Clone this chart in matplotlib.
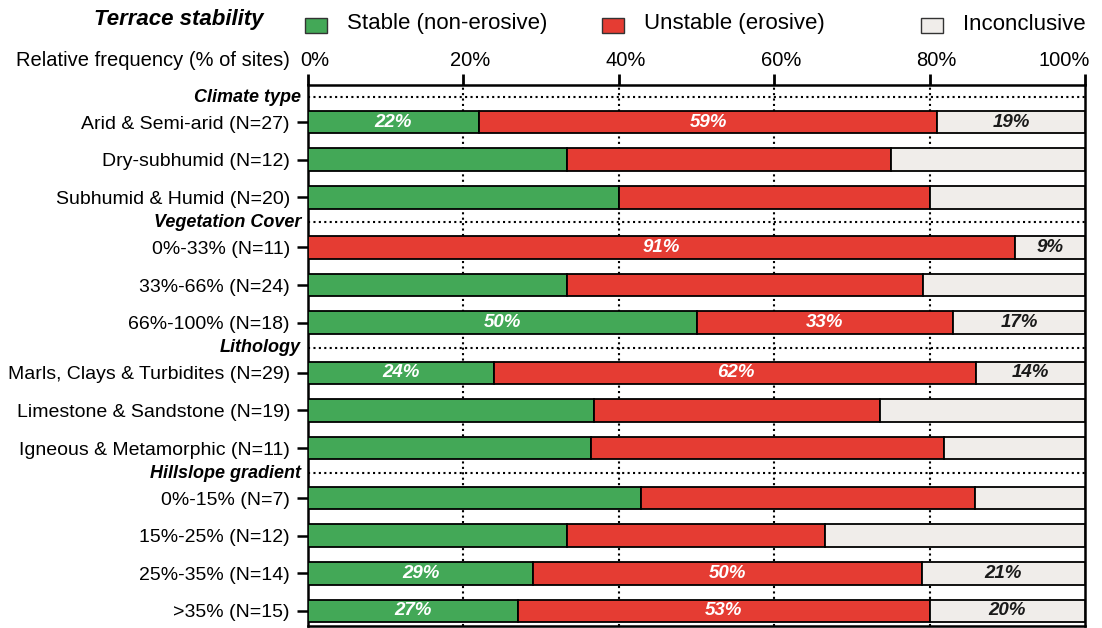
import matplotlib
matplotlib.use("Agg")
import matplotlib.pyplot as plt
from matplotlib.patches import Rectangle
from matplotlib.transforms import blended_transform_factory, ScaledTranslation

plt.rcParams['font.family'] = ['Liberation Sans', 'DejaVu Sans']

# ---- data -------------------------------------------------------------
groups = ["Climate type", "Vegetation Cover", "Lithology", "Hillslope gradient"]
categories = [
    ["Arid & Semi-arid (N=27)", "Dry-subhumid (N=12)", "Subhumid & Humid (N=20)"],
    ["0%-33% (N=11)", "33%-66% (N=24)", "66%-100% (N=18)"],
    ["Marls, Clays & Turbidites (N=29)", "Limestone & Sandstone (N=19)",
     "Igneous & Metamorphic (N=11)"],
    ["0%-15% (N=7)", "15%-25% (N=12)", "25%-35% (N=14)", ">35% (N=15)"],
]
stable = [22, 33.3, 40, 0, 33.3, 50, 24, 36.8, 36.4, 42.9, 33.3, 29, 27]
unstable = [59, 41.7, 40, 91, 45.8, 33, 62, 36.8, 45.5, 42.9, 33.3, 50, 53]
inconclusive = [19, 25, 20, 9, 20.9, 17, 14, 26.4, 18.1, 14.2, 33.4, 21, 20]
annotated = [True, False, False, True, False, True, True, False, False,
             False, False, True, True]
xticks = [0, 20, 40, 60, 80, 100]
series_names = ["Stable (non-erosive)", "Unstable (erosive)", "Inconclusive"]
colors = ["#43A857", "#E53C33", "#F0EDEA"]

# ---- row layout: group header rows are narrower than bar rows ---------
header_y, bar_y, bar_labels = [], [], []
cur = 0.0
for g, cats in zip(groups, categories):
    header_y.append(cur)
    cur += 2 / 3
    for c in cats:
        bar_y.append(cur)
        bar_labels.append(c)
        cur += 1
    cur -= 1 / 3

fig = plt.figure(figsize=(11.02, 6.28), dpi=100)
ax = fig.add_axes([308 / 1102, 2 / 628, (1085 - 308) / 1102, (626 - 85) / 628])

h = 0.6
lefts = [0] * len(stable)
segments = []
for vals, col in zip([stable, unstable, inconclusive], colors):
    bars = ax.barh(bar_y, vals, left=lefts, height=h, color=col,
                   edgecolor="black", linewidth=1.3, zorder=3)
    segments.append((bars, vals, list(lefts)))
    lefts = [l + v for l, v in zip(lefts, vals)]

# value labels on selected rows
for k, (bars, vals, lft) in enumerate(segments):
    txtcol = "#1a1a1a" if k == 2 else "white"
    for i, (y, v, l) in enumerate(zip(bar_y, vals, lft)):
        if annotated[i] and v > 0:
            ax.text(l + v / 2, y, f"{v:.0f}%", ha="center", va="center",
                    color=txtcol, fontsize=13.5, fontweight="bold",
                    fontstyle="italic", zorder=5)

# dotted guides
for x in xticks[1:-1]:
    ax.axvline(x, color="black", linestyle=(0, (1, 1.6)), linewidth=1.5, zorder=1)
for y in header_y:
    ax.axhline(y, color="black", linestyle=(0, (1, 1.6)), linewidth=1.5, zorder=1)

# group header labels
trans = blended_transform_factory(ax.transAxes, ax.transData)
for g, y in zip(groups, header_y):
    ax.text(-0.009, y, g, transform=trans, ha="right", va="center",
            fontsize=13, fontweight="bold", fontstyle="italic")

ax.set_xlim(0, 100)
ax.set_ylim(bar_y[-1] + 0.4, -0.32)
ax.set_yticks(bar_y)
ax.set_yticklabels(bar_labels)
ax.set_xticks(xticks)
ax.set_xticklabels([f"{x}%" for x in xticks])
ax.xaxis.tick_top()
ax.tick_params(axis="x", length=8, width=2, labelsize=14.5, pad=3, color="black")
ax.tick_params(axis="y", length=8, width=1.8, labelsize=14, pad=5)
for s in ax.spines.values():
    s.set_linewidth(1.8)
    s.set_color("black")

# nudge the top tick labels; the last one sits inside the frame edge
shift = ScaledTranslation(7 / 100, 0, fig.dpi_scale_trans)
xlabels = ax.get_xticklabels()
for lab in xlabels[:-1]:
    lab.set_transform(lab.get_transform() + shift)
xlabels[-1].set_horizontalalignment("right")
xlabels[-1].set_transform(xlabels[-1].get_transform()
                          + ScaledTranslation(5 / 100, 0, fig.dpi_scale_trans))

fig.text(290 / 1102, 1 - 60 / 628, "Relative frequency (% of sites)",
         ha="right", va="center", fontsize=14.5)

# legend header row
fig.text(179 / 1102, 1 - 20 / 628, "Terrace stability", ha="center", va="center",
         fontsize=16, fontweight="bold", fontstyle="italic")
patch_x = [305, 602, 921]
for px, name, col in zip(patch_x, series_names, colors):
    fig.add_artist(Rectangle((px / 1102, 1 - 33 / 628), 22 / 1102, 15 / 628,
                             transform=fig.transFigure, facecolor=col,
                             edgecolor="#333333", linewidth=1.0))
    fig.text((px + 42) / 1102, 1 - 24 / 628, name, ha="left", va="center",
             fontsize=16)

fig.savefig("out.png", dpi=100)
